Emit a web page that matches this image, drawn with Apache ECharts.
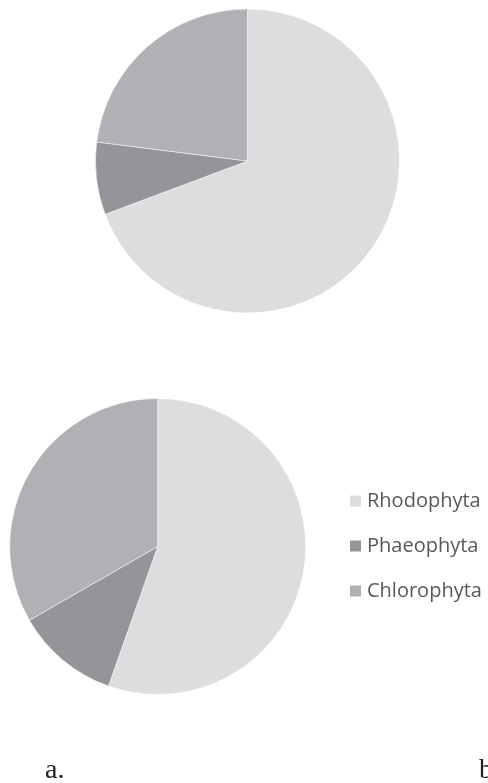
<!DOCTYPE html>
<html>
<head>
<meta charset="utf-8">
<script src="https://cdn.jsdelivr.net/npm/echarts@6/dist/echarts.min.js"></script>
<style>
  html, body { margin: 0; padding: 0; background: #fff; }
  #chart { width: 488px; height: 783px; }
</style>
</head>
<body>
<div id="chart"></div>
<script>
// phylum groups, shares in percent
const groups = ['Rhodophyta', 'Phaeophyta', 'Chlorophyta']
const colors = ['#dcdddf', '#939598', '#b0b1b4']
const sharesA = [69.3, 7.7, 23.0]
const sharesB = [55.4, 11.3, 33.3]
const panelLabels = ['a.', 'b']

const toData = vals => vals.map((v, i) => ({ name: groups[i], value: v }))

const chart = echarts.init(document.getElementById('chart'))
const option = {
  animation: false,
  color: colors,
  title: [
    {
      text: panelLabels[0], left: 40, top: 752,
      textStyle: { fontFamily: 'Liberation Serif', fontWeight: 'normal', fontSize: 28, color: '#222' }
    },
    {
      text: panelLabels[1], left: 474, top: 752,
      textStyle: { fontFamily: 'Liberation Serif', fontWeight: 'normal', fontSize: 28, color: '#222' }
    }
  ],
  legend: {
    data: groups,
    orient: 'vertical',
    left: 343,
    top: 486,
    icon: 'rect',
    itemWidth: 13,
    itemHeight: 13,
    itemGap: 25,
    selectedMode: false,
    textStyle: { fontFamily: 'Open Sans', fontSize: 20, color: '#595959', lineHeight: 20 }
  },
  series: [
    {
      type: 'pie',
      center: [247.5, 161],
      radius: 152,
      startAngle: 90,
      label: { show: false },
      labelLine: { show: false },
      silent: true,
      itemStyle: { borderColor: '#fff', borderWidth: 0.5 },
      data: toData(sharesA)
    },
    {
      type: 'pie',
      center: [157.7, 546.5],
      radius: 148,
      startAngle: 90,
      label: { show: false },
      labelLine: { show: false },
      silent: true,
      itemStyle: { borderColor: '#fff', borderWidth: 0.5 },
      data: toData(sharesB)
    }
  ]
}
chart.setOption(option)
</script>
</body>
</html>
